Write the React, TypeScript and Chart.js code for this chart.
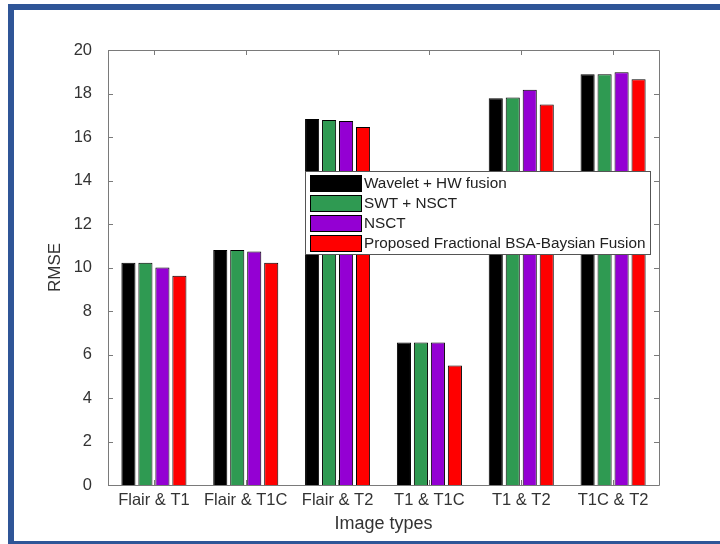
import React, { useEffect, useRef } from "react";
import { Chart, registerables } from "chart.js";

Chart.register(...registerables);

const categories = ["Flair & T1", "Flair & T1C", "Flair & T2", "T1 & T1C", "T1 & T2", "T1C & T2"];
const seriesNames = [
  "Wavelet + HW fusion",
  "SWT + NSCT",
  "NSCT",
  "Proposed Fractional BSA-Baysian Fusion",
];
const waveletHW = [10.22, 10.8, 16.83, 6.55, 17.78, 18.88];
const swtNsct = [10.22, 10.8, 16.78, 6.55, 17.82, 18.88];
const nsct = [10.0, 10.73, 16.74, 6.55, 18.17, 18.98];
const proposed = [9.62, 10.22, 16.46, 5.5, 17.49, 18.65];
const yTicks = [0, 2, 4, 6, 8, 10, 12, 14, 16, 18, 20];
const seriesColors = ["#000000", "#2f9a52", "#9400d3", "#ff0000"];

const FONT = "'Liberation Sans', Arial, Helvetica, sans-serif";

const axesPlugin = {
  id: "matlabAxes",
  afterDraw(chart: any) {
    const { ctx, chartArea } = chart;
    const { left, right, top, bottom } = chartArea;
    const xs = chart.scales.x;
    const ys = chart.scales.y;
    ctx.save();
    ctx.strokeStyle = "#7a7a7a";
    ctx.lineWidth = 1;
    ctx.beginPath();
    ctx.rect(Math.round(left) + 0.5, Math.round(top) + 0.5, Math.round(right - left), Math.round(bottom - top));
    ctx.stroke();
    const tl = 5;
    ctx.beginPath();
    yTicks.forEach((v) => {
      const y = Math.round(ys.getPixelForValue(v)) + 0.5;
      ctx.moveTo(left, y);
      ctx.lineTo(left + tl, y);
      ctx.moveTo(right, y);
      ctx.lineTo(right - tl, y);
    });
    categories.forEach((_, i) => {
      const x = Math.round(xs.getPixelForValue(i)) + 0.5;
      ctx.moveTo(x, bottom);
      ctx.lineTo(x, bottom - tl);
      ctx.moveTo(x, top);
      ctx.lineTo(x, top + tl);
    });
    ctx.stroke();
    ctx.restore();
  },
};

const legendPlugin = {
  id: "boxLegend",
  afterDatasetsDraw(chart: any) {
    const { ctx, chartArea } = chart;
    const bx = chartArea.left + 197;
    const by = chartArea.top + 121;
    const bw = chartArea.right - 9 - bx;
    const rowH = 20;
    const bh = 83;
    ctx.save();
    ctx.fillStyle = "#ffffff";
    ctx.fillRect(bx, by, bw, bh);
    ctx.strokeStyle = "#555555";
    ctx.lineWidth = 1;
    ctx.strokeRect(Math.round(bx) + 0.5, Math.round(by) + 0.5, Math.round(bw), bh);
    ctx.font = `15.3px ${FONT}`;
    ctx.textBaseline = "middle";
    ctx.textAlign = "left";
    chart.data.datasets.forEach((ds: any, i: number) => {
      const sy = by + 4 + i * rowH;
      ctx.fillStyle = ds.backgroundColor;
      ctx.fillRect(bx + 5, sy, 51, 16);
      ctx.strokeStyle = "#000000";
      ctx.strokeRect(Math.round(bx + 5) + 0.5, Math.round(sy) + 0.5, 51, 16);
      ctx.fillStyle = "#222222";
      ctx.fillText(ds.label, bx + 59, sy + 8.5);
    });
    ctx.restore();
  },
};

export default function App() {
  const ref = useRef<HTMLCanvasElement | null>(null);
  useEffect(() => {
    if (!ref.current) return;
    const data = [waveletHW, swtNsct, nsct, proposed];
    const chart = new Chart(ref.current, {
      type: "bar",
      data: {
        labels: categories,
        datasets: seriesNames.map((name, i) => ({
          label: name,
          data: data[i],
          backgroundColor: seriesColors[i],
          borderColor: "#000000",
          borderWidth: 1,
          categoryPercentage: 0.74,
          barPercentage: 0.83,
        })),
      },
      options: {
        responsive: false,
        animation: false,
        layout: { padding: { left: 0, right: 61, top: 50, bottom: 0 } },
        plugins: {
          legend: { display: false },
          tooltip: { enabled: false },
        },
        scales: {
          x: {
            grid: { display: false, drawTicks: false },
            border: { display: false },
            ticks: { color: "#333333", font: { family: FONT, size: 16.5 }, padding: 6, maxRotation: 0 },
            title: {
              display: true,
              text: "Image types",
              color: "#333333",
              font: { family: FONT, size: 18 },
              padding: { top: 0, bottom: 9 },
            },
            afterFit: (s: any) => {
              s.height = 59;
            },
          },
          y: {
            min: 0,
            max: 20,
            grid: { display: false, drawTicks: false },
            border: { display: false },
            ticks: {
              stepSize: 2,
              color: "#333333",
              font: { family: FONT, size: 16.5 },
              padding: 16,
            },
            title: {
              display: true,
              text: "RMSE",
              color: "#333333",
              font: { family: FONT, size: 17 },
              padding: { top: 45, bottom: 0 },
            },
            afterFit: (s: any) => {
              s.width = 108;
            },
          },
        },
      },
      plugins: [legendPlugin, axesPlugin],
    });
    return () => chart.destroy();
  }, []);

  return (
    <div
      style={{
        position: "fixed",
        left: 0,
        top: 0,
        width: 720,
        height: 544,
        overflow: "hidden",
        background: "#ffffff",
      }}
    >
      <div
        style={{
          position: "absolute",
          left: 8,
          top: 4,
          width: 740,
          height: 531,
          border: "6px solid #2f5597",
        }}
      />
      <canvas ref={ref} width={720} height={544} style={{ position: "absolute", left: 0, top: 0 }} />
    </div>
  );
}
